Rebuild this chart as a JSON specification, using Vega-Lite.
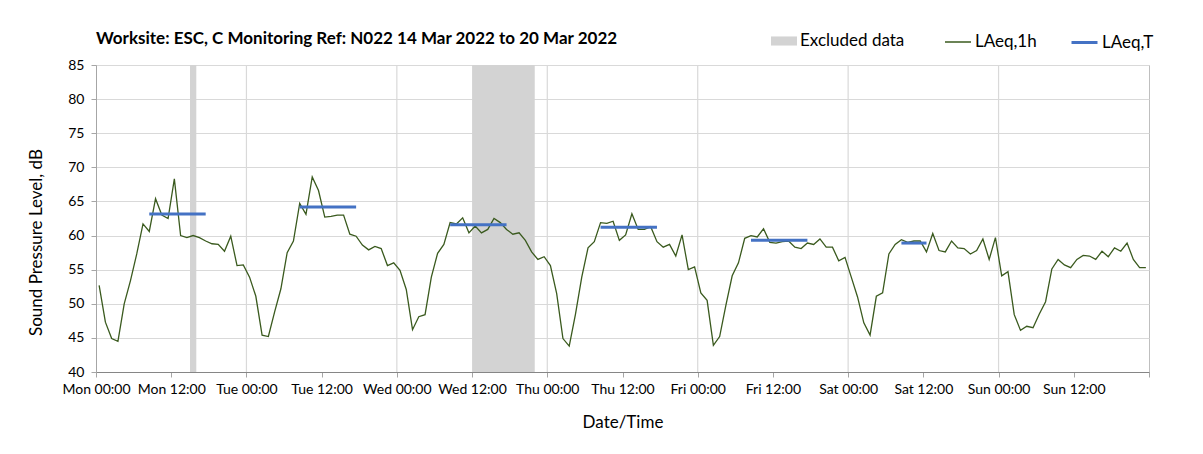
{
  "$schema": "https://vega.github.io/schema/vega-lite/v6.json",
  "width": 1053,
  "height": 307,
  "autosize": {"type": "none"},
  "padding": {"left": 96, "top": 65, "right": 54, "bottom": 82},
  "background": "white",
  "title": {
    "text": "Worksite: ESC, C Monitoring Ref: N022 14 Mar 2022 to 20 Mar 2022",
    "anchor": "start",
    "frame": "group",
    "font": "Lato",
    "fontSize": 17,
    "fontWeight": "bold",
    "color": "#000000",
    "offset": 19,
    "dy": 39
  },
  "config": {
    "font": "Lato",
    "view": {"stroke": "#bfbfbf", "strokeWidth": 1},
    "legend": {
      "title": null,
      "orient": "none",
      "direction": "horizontal",
      "symbolSize": 676,
      "labelFont": "Lato",
      "labelFontSize": 17,
      "labelColor": "#000000",
      "labelOffset": 3
    },
    "axis": {
      "labelFont": "Lato",
      "labelFontSize": 14,
      "labelColor": "#000000",
      "titleFont": "Lato",
      "titleFontSize": 17,
      "titleFontWeight": "normal",
      "titleColor": "#000000",
      "gridColor": "#d9d9d9",
      "gridWidth": 1.2,
      "domainColor": "#a6a6a6",
      "tickColor": "#a6a6a6",
      "tickSize": 5
    }
  },
  "datasets": {
    "hourly": [
      {"t":"2022-03-14T00:30","v":52.7},{"t":"2022-03-14T01:30","v":47.3},{"t":"2022-03-14T02:30","v":44.9},{"t":"2022-03-14T03:30","v":44.5},
      {"t":"2022-03-14T04:30","v":50.0},{"t":"2022-03-14T05:30","v":53.4},{"t":"2022-03-14T06:30","v":57.3},{"t":"2022-03-14T07:30","v":61.7},
      {"t":"2022-03-14T08:30","v":60.6},{"t":"2022-03-14T09:30","v":65.4},{"t":"2022-03-14T10:30","v":63.0},{"t":"2022-03-14T11:30","v":62.5},
      {"t":"2022-03-14T12:30","v":68.3},{"t":"2022-03-14T13:30","v":60.0},{"t":"2022-03-14T14:30","v":59.7},{"t":"2022-03-14T15:30","v":60.0},
      {"t":"2022-03-14T16:30","v":59.7},{"t":"2022-03-14T17:30","v":59.2},{"t":"2022-03-14T18:30","v":58.8},{"t":"2022-03-14T19:30","v":58.7},
      {"t":"2022-03-14T20:30","v":57.7},{"t":"2022-03-14T21:30","v":59.9},{"t":"2022-03-14T22:30","v":55.6},{"t":"2022-03-14T23:30","v":55.7},
      {"t":"2022-03-15T00:30","v":53.9},{"t":"2022-03-15T01:30","v":51.1},{"t":"2022-03-15T02:30","v":45.4},{"t":"2022-03-15T03:30","v":45.2},
      {"t":"2022-03-15T04:30","v":48.8},{"t":"2022-03-15T05:30","v":52.2},{"t":"2022-03-15T06:30","v":57.5},{"t":"2022-03-15T07:30","v":59.2},
      {"t":"2022-03-15T08:30","v":64.7},{"t":"2022-03-15T09:30","v":63.1},{"t":"2022-03-15T10:30","v":68.6},{"t":"2022-03-15T11:30","v":66.6},
      {"t":"2022-03-15T12:30","v":62.7},{"t":"2022-03-15T13:30","v":62.8},{"t":"2022-03-15T14:30","v":63.0},{"t":"2022-03-15T15:30","v":63.0},
      {"t":"2022-03-15T16:30","v":60.2},{"t":"2022-03-15T17:30","v":59.9},{"t":"2022-03-15T18:30","v":58.6},{"t":"2022-03-15T19:30","v":57.9},
      {"t":"2022-03-15T20:30","v":58.4},{"t":"2022-03-15T21:30","v":58.1},{"t":"2022-03-15T22:30","v":55.6},{"t":"2022-03-15T23:30","v":56.0},
      {"t":"2022-03-16T00:30","v":54.9},{"t":"2022-03-16T01:30","v":52.1},{"t":"2022-03-16T02:30","v":46.2},{"t":"2022-03-16T03:30","v":48.1},
      {"t":"2022-03-16T04:30","v":48.4},{"t":"2022-03-16T05:30","v":53.9},{"t":"2022-03-16T06:30","v":57.4},{"t":"2022-03-16T07:30","v":58.7},
      {"t":"2022-03-16T08:30","v":61.9},{"t":"2022-03-16T09:30","v":61.7},{"t":"2022-03-16T10:30","v":62.6},{"t":"2022-03-16T11:30","v":60.4},
      {"t":"2022-03-16T12:30","v":61.4},{"t":"2022-03-16T13:30","v":60.4},{"t":"2022-03-16T14:30","v":60.9},{"t":"2022-03-16T15:30","v":62.5},
      {"t":"2022-03-16T16:30","v":61.9},{"t":"2022-03-16T17:30","v":60.9},{"t":"2022-03-16T18:30","v":60.2},{"t":"2022-03-16T19:30","v":60.4},
      {"t":"2022-03-16T20:30","v":59.3},{"t":"2022-03-16T21:30","v":57.6},{"t":"2022-03-16T22:30","v":56.5},{"t":"2022-03-16T23:30","v":56.9},
      {"t":"2022-03-17T00:30","v":55.6},{"t":"2022-03-17T01:30","v":51.5},{"t":"2022-03-17T02:30","v":44.9},{"t":"2022-03-17T03:30","v":43.8},
      {"t":"2022-03-17T04:30","v":48.5},{"t":"2022-03-17T05:30","v":53.9},{"t":"2022-03-17T06:30","v":58.2},{"t":"2022-03-17T07:30","v":59.1},
      {"t":"2022-03-17T08:30","v":61.9},{"t":"2022-03-17T09:30","v":61.8},{"t":"2022-03-17T10:30","v":62.1},{"t":"2022-03-17T11:30","v":59.3},
      {"t":"2022-03-17T12:30","v":60.1},{"t":"2022-03-17T13:30","v":63.2},{"t":"2022-03-17T14:30","v":60.9},{"t":"2022-03-17T15:30","v":60.9},
      {"t":"2022-03-17T16:30","v":61.3},{"t":"2022-03-17T17:30","v":59.1},{"t":"2022-03-17T18:30","v":58.3},{"t":"2022-03-17T19:30","v":58.7},
      {"t":"2022-03-17T20:30","v":57.0},{"t":"2022-03-17T21:30","v":60.1},{"t":"2022-03-17T22:30","v":55.0},{"t":"2022-03-17T23:30","v":55.4},
      {"t":"2022-03-18T00:30","v":51.6},{"t":"2022-03-18T01:30","v":50.5},{"t":"2022-03-18T02:30","v":43.9},{"t":"2022-03-18T03:30","v":45.2},
      {"t":"2022-03-18T04:30","v":49.8},{"t":"2022-03-18T05:30","v":54.1},{"t":"2022-03-18T06:30","v":56.0},{"t":"2022-03-18T07:30","v":59.6},
      {"t":"2022-03-18T08:30","v":60.0},{"t":"2022-03-18T09:30","v":59.8},{"t":"2022-03-18T10:30","v":61.0},{"t":"2022-03-18T11:30","v":59.0},
      {"t":"2022-03-18T12:30","v":58.9},{"t":"2022-03-18T13:30","v":59.1},{"t":"2022-03-18T14:30","v":59.2},{"t":"2022-03-18T15:30","v":58.3},
      {"t":"2022-03-18T16:30","v":58.1},{"t":"2022-03-18T17:30","v":58.9},{"t":"2022-03-18T18:30","v":58.7},{"t":"2022-03-18T19:30","v":59.5},
      {"t":"2022-03-18T20:30","v":58.3},{"t":"2022-03-18T21:30","v":58.3},{"t":"2022-03-18T22:30","v":56.3},{"t":"2022-03-18T23:30","v":56.8},
      {"t":"2022-03-19T00:30","v":53.9},{"t":"2022-03-19T01:30","v":51.0},{"t":"2022-03-19T02:30","v":47.2},{"t":"2022-03-19T03:30","v":45.4},
      {"t":"2022-03-19T04:30","v":51.1},{"t":"2022-03-19T05:30","v":51.6},{"t":"2022-03-19T06:30","v":57.3},{"t":"2022-03-19T07:30","v":58.7},
      {"t":"2022-03-19T08:30","v":59.4},{"t":"2022-03-19T09:30","v":59.0},{"t":"2022-03-19T10:30","v":59.2},{"t":"2022-03-19T11:30","v":59.2},
      {"t":"2022-03-19T12:30","v":57.6},{"t":"2022-03-19T13:30","v":60.3},{"t":"2022-03-19T14:30","v":57.8},{"t":"2022-03-19T15:30","v":57.6},
      {"t":"2022-03-19T16:30","v":59.2},{"t":"2022-03-19T17:30","v":58.2},{"t":"2022-03-19T18:30","v":58.1},{"t":"2022-03-19T19:30","v":57.3},
      {"t":"2022-03-19T20:30","v":57.8},{"t":"2022-03-19T21:30","v":59.5},{"t":"2022-03-19T22:30","v":56.5},{"t":"2022-03-19T23:30","v":59.7},
      {"t":"2022-03-20T00:30","v":54.1},{"t":"2022-03-20T01:30","v":54.7},{"t":"2022-03-20T02:30","v":48.4},{"t":"2022-03-20T03:30","v":46.1},
      {"t":"2022-03-20T04:30","v":46.7},{"t":"2022-03-20T05:30","v":46.5},{"t":"2022-03-20T06:30","v":48.5},{"t":"2022-03-20T07:30","v":50.3},
      {"t":"2022-03-20T08:30","v":55.1},{"t":"2022-03-20T09:30","v":56.5},{"t":"2022-03-20T10:30","v":55.7},{"t":"2022-03-20T11:30","v":55.3},
      {"t":"2022-03-20T12:30","v":56.5},{"t":"2022-03-20T13:30","v":57.1},{"t":"2022-03-20T14:30","v":57.0},{"t":"2022-03-20T15:30","v":56.5},
      {"t":"2022-03-20T16:30","v":57.7},{"t":"2022-03-20T17:30","v":56.9},{"t":"2022-03-20T18:30","v":58.2},{"t":"2022-03-20T19:30","v":57.7},
      {"t":"2022-03-20T20:30","v":58.9},{"t":"2022-03-20T21:30","v":56.5},{"t":"2022-03-20T22:30","v":55.3},{"t":"2022-03-20T23:30","v":55.3}
    ],
    "days": [
      {"d":"2022-03-15T00:00"},{"d":"2022-03-16T00:00"},{"d":"2022-03-17T00:00"},
      {"d":"2022-03-18T00:00"},{"d":"2022-03-19T00:00"},{"d":"2022-03-20T00:00"}
    ],
    "excluded": [
      {"start":"2022-03-14T15:00","end":"2022-03-14T16:00"},
      {"start":"2022-03-16T12:00","end":"2022-03-16T22:00"}
    ],
    "period": [
      {"start":"2022-03-14T08:30","end":"2022-03-14T17:30","v":63.15},
      {"start":"2022-03-15T08:30","end":"2022-03-15T17:30","v":64.2},
      {"start":"2022-03-16T08:30","end":"2022-03-16T17:30","v":61.6},
      {"start":"2022-03-17T08:30","end":"2022-03-17T17:30","v":61.2},
      {"start":"2022-03-18T08:30","end":"2022-03-18T17:30","v":59.3},
      {"start":"2022-03-19T08:30","end":"2022-03-19T12:30","v":58.9}
    ]
  },
  "layer": [
    {
      "data": {"name": "days"},
      "mark": {"type": "rule", "color": "#d9d9d9", "strokeWidth": 1.2},
      "encoding": {
        "x": {
          "field": "d", "type": "temporal",
          "scale": {"domain": [{"year": 2022, "month": 3, "date": 14, "hours": 0}, {"year": 2022, "month": 3, "date": 21, "hours": 0}]},
          "axis": {
            "title": "Date/Time",
            "titlePadding": 18,
            "format": "%a %H:%M",
            "values": [
              {"year": 2022, "month": 3, "date": 14, "hours": 0}, {"year": 2022, "month": 3, "date": 14, "hours": 12},
              {"year": 2022, "month": 3, "date": 15, "hours": 0}, {"year": 2022, "month": 3, "date": 15, "hours": 12},
              {"year": 2022, "month": 3, "date": 16, "hours": 0}, {"year": 2022, "month": 3, "date": 16, "hours": 12},
              {"year": 2022, "month": 3, "date": 17, "hours": 0}, {"year": 2022, "month": 3, "date": 17, "hours": 12},
              {"year": 2022, "month": 3, "date": 18, "hours": 0}, {"year": 2022, "month": 3, "date": 18, "hours": 12},
              {"year": 2022, "month": 3, "date": 19, "hours": 0}, {"year": 2022, "month": 3, "date": 19, "hours": 12},
              {"year": 2022, "month": 3, "date": 20, "hours": 0}, {"year": 2022, "month": 3, "date": 20, "hours": 12},
              {"year": 2022, "month": 3, "date": 21, "hours": 0}
            ],
            "labelExpr": "datum.index >= 1 ? '' : datum.label",
            "labelPadding": 5,
            "labelFlush": false,
            "labelOverlap": false,
            "grid": false,
            "domainColor": "#868686"
          }
        }
      }
    },
    {
      "data": {"name": "excluded"},
      "mark": {"type": "rect", "opacity": 1},
      "encoding": {
        "x": {"field": "start", "type": "temporal"},
        "x2": {"field": "end"},
        "fill": {
          "datum": "Excluded data",
          "type": "nominal",
          "scale": {"domain": ["Excluded data"], "range": ["#d3d3d3"]},
          "legend": {
            "legendX": 675,
            "legendY": -37,
            "symbolType": "M-1,-0.35H1V0.35H-1Z",
            "symbolStrokeWidth": 0
          }
        }
      }
    },
    {
      "data": {"name": "hourly"},
      "mark": {"type": "line", "strokeWidth": 1.3, "interpolate": "linear"},
      "encoding": {
        "x": {"field": "t", "type": "temporal"},
        "y": {
          "field": "v", "type": "quantitative",
          "scale": {"domain": [40, 85], "nice": false, "zero": false},
          "axis": {
            "title": "Sound Pressure Level, dB",
            "values": [40, 45, 50, 55, 60, 65, 70, 75, 80, 85],
            "labelPadding": 7, "labelOverlap": false, "labelFlush": false,
            "titlePadding": 22, "titleY": 177, "grid": true
          }
        },
        "color": {
          "datum": "LAeq,1h", "type": "nominal",
          "scale": {"domain": ["LAeq,1h"], "range": ["#3a5a1e"]},
          "legend": {
            "legendX": 848,
            "legendY": -37,
            "symbolType": "stroke",
            "symbolStrokeWidth": 1.5
          }
        }
      }
    },
    {
      "data": {"name": "period"},
      "mark": {"type": "rule", "strokeWidth": 3, "strokeCap": "butt"},
      "encoding": {
        "x": {"field": "start", "type": "temporal"},
        "x2": {"field": "end"},
        "y": {
          "field": "v", "type": "quantitative",
          "axis": {
            "title": "Sound Pressure Level, dB",
            "values": [40, 45, 50, 55, 60, 65, 70, 75, 80, 85],
            "labelPadding": 7, "labelOverlap": false, "labelFlush": false,
            "titlePadding": 22, "titleY": 177, "grid": true
          }
        },
        "stroke": {
          "datum": "LAeq,T", "type": "nominal",
          "scale": {"domain": ["LAeq,T"], "range": ["#4472c4"]},
          "legend": {
            "legendX": 974,
            "legendY": -37,
            "symbolType": "stroke",
            "symbolStrokeWidth": 3
          }
        }
      }
    }
  ]
}
